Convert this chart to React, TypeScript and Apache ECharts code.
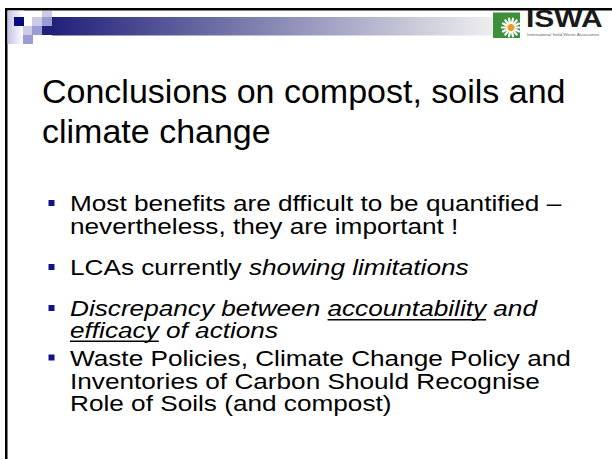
import React, { useEffect, useRef } from "react";
import * as echarts from "echarts";

const TITLE_LINES = ["Conclusions on compost, soils and", "climate change"];
const BULLET1 = ["Most benefits are dfficult to be quantified –", "nevertheless, they are important !"];
const BULLET2_NORMAL = "LCAs currently ";
const BULLET2_ITALIC = "showing limitations";
const BULLET3 = ["Discrepancy between accountability and", "efficacy of actions"];
const BULLET3_UNDERLINED = ["accountability", "efficacy"];
const BULLET4 = [
  "Waste Policies, Climate Change Policy and",
  "Inventories of Carbon Should Recognise",
  "Role of Soils (and compost)",
];
const LOGO_TEXT = "ISWA";
const LOGO_TAGLINE = "International Solid Waste Association";

const FONT = "'Liberation Sans', Arial, sans-serif";

export default function App() {
  const ref = useRef<HTMLDivElement>(null);
  useEffect(() => {
    const chart = echarts.init(ref.current!, null, { renderer: "svg" });
    const ctx = document.createElement("canvas").getContext("2d")!;
    const measure = (t: string, font: string) => {
      ctx.font = font;
      return ctx.measureText(t).width;
    };

    const TITLE_SIZE = 34;
    const BODY_SIZE = 22;
    const BODY_SX = 1.19;
    const BODY_LH = 19;
    const shadow = {
      textShadowColor: "rgba(0,0,0,0.3)",
      textShadowOffsetX: 1.2,
      textShadowOffsetY: 1.2,
      textShadowBlur: 0,
    };
    const els: any[] = [];

    // frame
    els.push({ type: "rect", shape: { x: 0, y: 0, width: 612, height: 459 }, style: { fill: "#ffffff" } });
    els.push({ type: "rect", shape: { x: 5, y: 8, width: 607, height: 2.5 }, style: { fill: "#000000" } });
    els.push({ type: "rect", shape: { x: 5, y: 8, width: 2.5, height: 451 }, style: { fill: "#000000" } });

    // decorative squares
    els.push({
      type: "rect",
      shape: { x: 7.5, y: 10.5, width: 16, height: 33.5 },
      style: {
        fill: new echarts.graphic.LinearGradient(0, 0, 1, 0, [
          { offset: 0, color: "#c4c4e4" },
          { offset: 1, color: "#ffffff" },
        ]),
      },
    });
    const sq = (x: number, y: number, w: number, h: number, c: string) =>
      els.push({ type: "rect", shape: { x, y, width: w, height: h }, style: { fill: c } });
    sq(14, 17, 10, 9, "#0b0b80");
    sq(32, 17, 10, 9, "#cbcbe8");
    sq(42, 11, 10, 6, "#cbcbe8");
    sq(42, 17, 10, 9, "#9c9cd2");
    sq(23, 26, 9, 9, "#cbcbe8");
    sq(32, 26, 10, 9, "#9c9cd2");
    sq(23, 35, 10, 9, "#9c9cd2");
    sq(42, 26, 10, 9, "#21217a");
    els.push({
      type: "rect",
      shape: { x: 52, y: 17, width: 445, height: 18.5 },
      style: {
        fill: new echarts.graphic.LinearGradient(0, 0, 1, 0, [
          { offset: 0, color: "#21217a" },
          { offset: 1, color: "#f0f0f0" },
        ]),
      },
    });

    // logo
    els.push({ type: "rect", shape: { x: 493, y: 12.5, width: 27, height: 25.5 }, style: { fill: "#3d8f3a" } });
    const cx = 511, cy = 27.5;
    for (let k = 0; k < 14; k++) {
      const a = (k / 14) * Math.PI * 2;
      els.push({
        type: "line",
        shape: { x1: cx + 3 * Math.cos(a), y1: cy + 3 * Math.sin(a), x2: cx + 9 * Math.cos(a), y2: cy + 9 * Math.sin(a) },
        style: { stroke: "#ffffff", lineWidth: 2.2, lineCap: "round" },
      });
    }
    els.push({ type: "circle", shape: { cx, cy, r: 3.6 }, style: { fill: "#f29a1e" } });
    els.push({
      type: "text",
      x: 526,
      y: 31,
      scaleY: 0.82,
      style: {
        text: LOGO_TEXT,
        fontSize: 30,
        fontWeight: "bold",
        fontFamily: FONT,
        fill: "#1a1a1a",
        align: "left",
        textAlign: "left",
        verticalAlign: "bottom",
        textVerticalAlign: "bottom",
      },
    });
    els.push({
      type: "text",
      x: 527,
      y: 34.5,
      style: {
        text: LOGO_TAGLINE,
        fontSize: 4.4,
        fontFamily: FONT,
        fill: "#666666",
        align: "left",
        textAlign: "left",
        verticalAlign: "middle",
        textVerticalAlign: "middle",
      },
    });

    // title (y = visual middle of each line)
    const titleMid = [91, 131];
    TITLE_LINES.forEach((t, i) => {
      els.push({
        type: "text",
        x: 42,
        y: titleMid[i],
        style: {
          text: t,
          fontSize: TITLE_SIZE,
          fontFamily: FONT,
          fill: "#000000",
          align: "left",
          textAlign: "left",
          verticalAlign: "middle",
          textVerticalAlign: "middle",
        },
      });
    });

    const TX = 70;
    const bodyText = (text: string, mid: number, italic = false) =>
      els.push({
        type: "text",
        x: TX,
        y: mid,
        scaleX: BODY_SX,
        style: {
          text,
          fontSize: BODY_SIZE,
          lineHeight: BODY_LH,
          fontFamily: FONT,
          fontStyle: italic ? "italic" : "normal",
          fill: "#000000",
          align: "left",
          textAlign: "left",
          verticalAlign: "middle",
          textVerticalAlign: "middle",
          ...shadow,
        },
      });
    const bulletSq = (mid: number) =>
      els.push({ type: "rect", shape: { x: 48.5, y: mid - 3.5, width: 6, height: 6 }, style: { fill: "#12128a" } });

    // bullet 1
    const b1 = [203.5, 226];
    bulletSq(b1[0]);
    BULLET1.forEach((t, i) => bodyText(t, b1[i]));

    // bullet 2
    const b2 = 267.5;
    bulletSq(b2);
    els.push({
      type: "text",
      x: TX,
      y: b2,
      scaleX: BODY_SX,
      style: {
        text: BULLET2_NORMAL + "{i|" + BULLET2_ITALIC + "}",
        fontSize: BODY_SIZE,
        lineHeight: BODY_LH,
        fontFamily: FONT,
        fill: "#000000",
        align: "left",
        textAlign: "left",
        verticalAlign: "middle",
        textVerticalAlign: "middle",
        ...shadow,
        rich: {
          i: {
            fontSize: BODY_SIZE,
            lineHeight: BODY_LH,
            fontFamily: FONT,
            fontStyle: "italic",
            fill: "#000000",
            ...shadow,
          },
        },
      },
    });

    // bullet 3
    const b3 = [308.5, 330];
    bulletSq(b3[0]);
    const itFont = `italic ${BODY_SIZE}px ${FONT}`;
    BULLET3.forEach((t, i) => {
      bodyText(t, b3[i], true);
      const word = BULLET3_UNDERLINED[i];
      const idx = t.indexOf(word);
      const x0 = TX + measure(t.slice(0, idx), itFont) * BODY_SX;
      const w = measure(word, itFont) * BODY_SX;
      const uy = b3[i] + BODY_SIZE * 0.35 + 3.5;
      els.push({
        type: "line",
        shape: { x1: x0, y1: uy, x2: x0 + w, y2: uy },
        style: { stroke: "#000000", lineWidth: 1.5 },
      });
    });

    // bullet 4
    const b4 = [358, 381, 403.5];
    bulletSq(b4[0]);
    BULLET4.forEach((t, i) => bodyText(t, b4[i]));

    chart.setOption({ animation: false, backgroundColor: "#ffffff", graphic: { elements: els } });
    return () => chart.dispose();
  }, []);
  return <div ref={ref} style={{ position: "fixed", left: 0, top: 0, width: 612, height: 459 }} />;
}
